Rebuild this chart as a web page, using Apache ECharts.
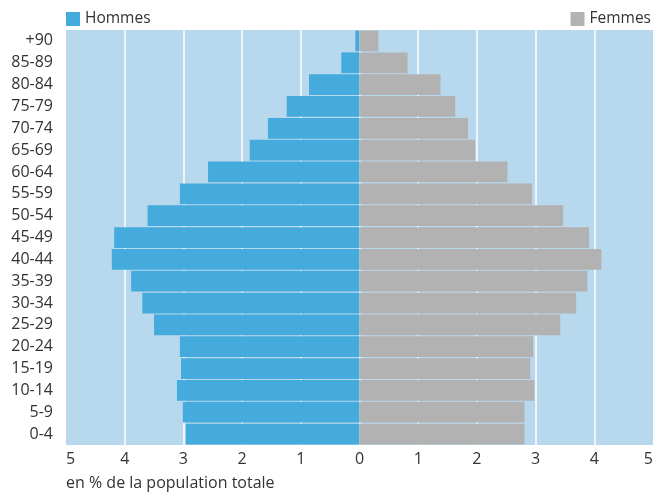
<!DOCTYPE html>
<html><head><meta charset="utf-8">
<script src="https://cdn.jsdelivr.net/npm/echarts@6/dist/echarts.min.js"></script>
<style>html,body{margin:0;padding:0;background:#fff}#c{width:656px;height:492px}</style>
</head><body><div id="c"></div>
<script>
const categories = ['0-4','5-9','10-14','15-19','20-24','25-29','30-34','35-39','40-44','45-49','50-54','55-59','60-64','65-69','70-74','75-79','80-84','85-89','+90'];
const hommes = [2.96,3.01,3.11,3.04,3.06,3.50,3.70,3.89,4.22,4.18,3.61,3.06,2.58,1.87,1.56,1.24,0.86,0.31,0.07];
const femmes = [2.81,2.81,2.98,2.91,2.96,3.42,3.69,3.88,4.12,3.91,3.47,2.94,2.52,1.97,1.85,1.63,1.38,0.82,0.32];
const axisTicks = [-5,-4,-3,-2,-1,0,1,2,3,4,5];

const FONT = 'Open Sans';
const chart = echarts.init(document.getElementById('c'), null, {renderer:'canvas'});
chart.setOption({
  animation:false,
  textStyle:{fontFamily:FONT},
  legend:[
    {data:['Hommes'], left:61, top:6, itemWidth:14, itemHeight:14, itemGap:6, icon:'rect',
     textStyle:{fontSize:15.5, color:'#333', fontFamily:FONT}},
    {data:['Femmes'], right:0, top:6, itemWidth:14, itemHeight:14, icon:'rect',
     textStyle:{fontSize:15.5, color:'#333', fontFamily:FONT}}
  ],
  grid:{left:66, right:2, top:30, bottom:47, show:true, backgroundColor:'#b8d8ee', borderWidth:0, containLabel:false},
  xAxis:{type:'value', min:axisTicks[0], max:axisTicks[axisTicks.length-1], interval:1,
    axisLine:{show:false}, axisTick:{show:false},
    axisLabel:{formatter:v=>String(Math.abs(v)), fontSize:16, color:'#333', margin:6, fontFamily:FONT,
      alignMinLabel:'left', alignMaxLabel:'right'},
    splitLine:{show:true, showMinLine:false, showMaxLine:false, lineStyle:{color:'#ffffff', width:1.5}}
  },
  yAxis:{type:'category', data:categories,
    axisLine:{show:false}, axisTick:{show:false},
    axisLabel:{fontSize:16, color:'#333', margin:13, fontFamily:FONT},
    splitLine:{show:false}
  },
  series:[
    {name:'Hommes', type:'bar', data:hommes.map(v=>-v), barGap:'-100%', barCategoryGap:'5%',
     itemStyle:{color:'#45aadc'}},
    {name:'Femmes', type:'bar', data:femmes, barCategoryGap:'5%',
     itemStyle:{color:'#b2b2b2'}}
  ],
  graphic:[{type:'text', left:66, top:475, style:{text:'en % de la population totale', fontSize:16, fill:'#333', fontFamily:FONT}}]
});
</script></body></html>
